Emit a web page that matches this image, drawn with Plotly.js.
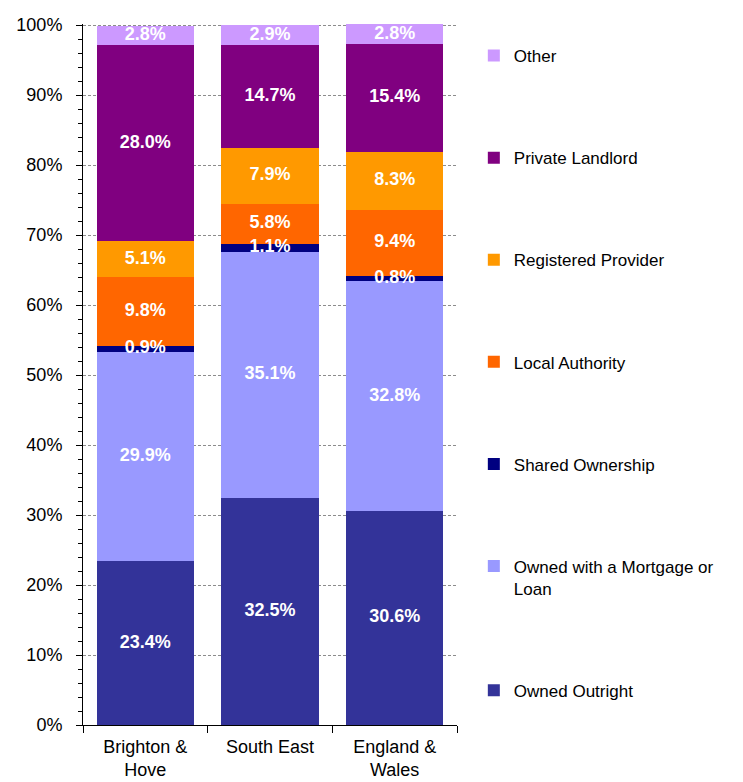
<!DOCTYPE html>
<html>
<head>
<meta charset="utf-8">
<script src="https://cdn.plot.ly/plotly-3.0.1.min.js"></script>
<style>html,body{margin:0;padding:0;background:#fff}#chart{width:743px;height:782px}</style>
</head>
<body>
<div id="chart"></div>
<script>
const categories = ["Brighton &<br>Hove", "South East", "England &<br>Wales"];
const seriesNames = ["Owned Outright", "Owned with a Mortgage or<br>Loan", "Shared Ownership", "Local Authority", "Registered Provider", "Private Landlord", "Other"];
const ownedOutright = [23.4, 32.5, 30.6];
const ownedMortgage = [29.9, 35.1, 32.8];
const sharedOwnership = [0.9, 1.1, 0.8];
const localAuthority = [9.8, 5.8, 9.4];
const registeredProvider = [5.1, 7.9, 8.3];
const privateLandlord = [28.0, 14.7, 15.4];
const other = [2.8, 2.9, 2.8];
const seriesValues = [ownedOutright, ownedMortgage, sharedOwnership, localAuthority, registeredProvider, privateLandlord, other];
const colors = ["#333399", "#9999FF", "#000080", "#FF6600", "#FF9900", "#800080", "#CC99FF"];

const font = "Liberation Sans, Arial, sans-serif";
const n = seriesValues.length;
const traces = seriesValues.map((vals, i) => ({
  type: "bar",
  name: seriesNames[i],
  x: categories,
  y: vals,
  marker: {color: colors[i], line: {width: 0}},
  textposition: "none",
  legendgroup: "g" + i,
  legendrank: n - i,
  hoverinfo: "skip"
}));

// value labels placed at the middle of each stacked segment (computed from data)
const lx = [], ly = [], lt = [];
categories.forEach((c, j) => {
  let base = 0;
  seriesValues.forEach(vals => {
    lx.push(c); ly.push(base + vals[j] / 2); lt.push(vals[j].toFixed(1) + "%");
    base += vals[j];
  });
});
traces.push({
  type: "scatter", mode: "text",
  x: lx, y: ly, text: lt,
  textposition: "middle center",
  textfont: {family: font, size: 18, color: "#FFFFFF", weight: "bold"},
  cliponaxis: false, showlegend: false, hoverinfo: "skip"
});

const layout = {
  width: 743, height: 782,
  margin: {l: 83, r: 286, t: 24, b: 57},
  barmode: "stack",
  bargap: 0.22,
  paper_bgcolor: "#fff", plot_bgcolor: "#fff",
  font: {family: font, color: "#000"},
  showlegend: true,
  legend: {
    x: 1.045, xanchor: "left", y: 0.98, yanchor: "top",
    traceorder: "grouped", tracegroupgap: 77,
    valign: "top",
    font: {family: font, size: 17, color: "#000"},
    bgcolor: "rgba(0,0,0,0)"
  },
  xaxis: {
    type: "category",
    tickson: "boundaries",
    ticks: "outside", ticklen: 7, tickcolor: "#000", tickwidth: 1,
    showline: true, linecolor: "#000", linewidth: 1,
    showgrid: false,
    ticklabelstandoff: 5,
    tickfont: {family: font, size: 18, color: "#000"},
    fixedrange: true
  },
  yaxis: {
    range: [0, 100.15], dtick: 10, tick0: 0,
    ticksuffix: "%",
    ticks: "outside", ticklen: 6, tickcolor: "#000", tickwidth: 1,
    minor: {dtick: 2, tick0: 0, ticks: "outside", ticklen: 4, tickcolor: "#000", showgrid: false},
    showline: true, linecolor: "#000", linewidth: 1,
    showgrid: true, gridcolor: "#8c8c8c", gridwidth: 1, griddash: "3px,2px",
    zeroline: false,
    ticklabelstandoff: 10,
    tickfont: {family: font, size: 18, color: "#000"},
    fixedrange: true
  }
};

Plotly.newPlot("chart", traces, layout, {displayModeBar: false, staticPlot: true});
</script>
</body>
</html>
